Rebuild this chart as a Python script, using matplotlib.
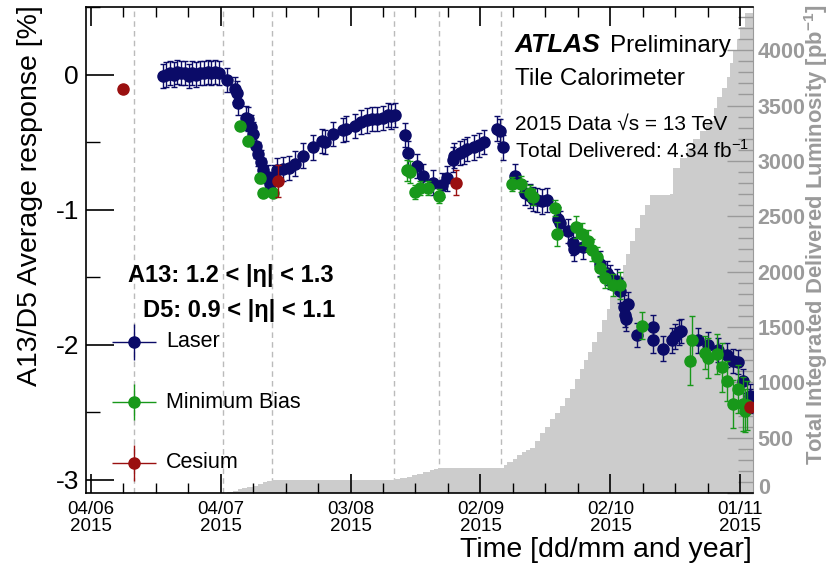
import numpy as np
import matplotlib
matplotlib.use("Agg")
import matplotlib.pyplot as plt
from matplotlib.ticker import FixedLocator, MultipleLocator

plt.rcParams['font.family'] = ['Liberation Sans', 'DejaVu Sans']
plt.rcParams['mathtext.fontset'] = 'custom'
plt.rcParams['mathtext.rm'] = 'Liberation Sans'
plt.rcParams['mathtext.bf'] = 'Liberation Sans:bold'

# x values are days since 04/06/2015
laser_day = [16.7, 17.4, 18.3, 19.2, 19.9, 20.9, 21.8, 22.7, 23.4, 24.3, 25.2, 26.2, 27.1, 27.8,
             28.7, 29.6, 31.5, 33.4, 33.7, 34.0, 35.8, 36.4, 37.0, 37.6, 38.3, 38.6, 39.3, 39.8,
             40.9, 41.5, 42.3, 43.0, 44.4, 45.8, 47.2, 49.1, 51.3, 53.4, 54.1, 56.0, 58.2, 59.0,
             61.0, 62.5, 63.7, 65.0, 66.1, 67.5, 68.6, 69.4, 70.2, 72.6, 73.3, 75.3, 76.7, 79.0,
             81.1, 82.3, 83.6, 84.0, 85.2, 86.3, 86.9, 88.6, 89.7, 90.9, 93.8, 94.4, 95.2, 98.0,
             100.2, 101.4, 102.2, 103.1, 104.2, 105.3, 107.8, 108.3, 110.2, 111.4, 111.6, 113.6,
             117.6, 119.2, 120.0, 121.5, 122.2, 123.2, 123.4, 123.5, 124.1, 126.1, 129.8, 129.9,
             132.1, 134.2, 134.9, 135.9, 136.3, 140.2, 142.5, 144.8, 146.9, 148.2, 149.4, 150.5,
             152.1, 152.3]
laser_val = [-0.01, 0.00, 0.01, 0.00, 0.02, 0.01, 0.01, -0.01, 0.01, 0.00, 0.01, 0.01, 0.02, 0.01,
             0.02, 0.01, -0.04, -0.11, -0.14, -0.21, -0.32, -0.33, -0.39, -0.44, -0.53, -0.59, -0.65, -0.71,
             -0.76, -0.81, -0.76, -0.71, -0.70, -0.69, -0.66, -0.60, -0.54, -0.49, -0.50, -0.44, -0.41, -0.40,
             -0.38, -0.35, -0.34, -0.33, -0.33, -0.32, -0.30, -0.31, -0.30, -0.45, -0.58, -0.68, -0.75, -0.80,
             -0.82, -0.77, -0.63, -0.60, -0.58, -0.57, -0.55, -0.54, -0.52, -0.50, -0.40, -0.42, -0.54, -0.75,
             -0.88, -0.90, -0.92, -0.93, -0.94, -0.93, -1.07, -1.10, -1.16, -1.25, -1.29, -1.28,
             -1.40, -1.47, -1.50, -1.53, -1.60, -1.72, -1.78, -1.81, -1.70, -1.93, -1.87, -1.97,
             -2.03, -1.97, -1.94, -1.91, -1.90, -1.97, -2.00, -2.04, -2.08, -2.12, -2.13, -2.27,
             -2.38, -2.42]
laser_err = [0.09] * len(laser_val)

minbias_day = [34.5, 36.3, 39.1, 39.8, 42.1, 73.0, 73.7, 74.9, 76.0, 77.9, 80.4, 97.2, 99.3, 101.4,
               102.1, 107.2, 107.6, 112.0, 113.4, 114.8, 115.7, 116.9, 117.6, 118.7, 120.6, 122.2,
               127.2, 138.3, 138.8, 141.8, 142.5, 144.6, 145.7, 146.9, 148.2, 149.4, 150.5, 151.0, 151.5]
minbias_val = [-0.38, -0.49, -0.77, -0.88, -0.88, -0.71, -0.72, -0.87, -0.84, -0.84, -0.90, -0.81,
               -0.81, -0.88, -0.91, -0.99, -1.18, -1.13, -1.18, -1.23, -1.30, -1.35, -1.43, -1.51,
               -1.56, -1.56, -1.86, -2.12, -1.97, -2.06, -2.10, -2.07, -2.17, -2.27, -2.44, -2.33,
               -2.44, -2.49, -2.45]
minbias_err = [0.03, 0.03, 0.03, 0.03, 0.03, 0.08, 0.08, 0.05, 0.05, 0.05, 0.05, 0.05, 0.06, 0.06,
               0.06, 0.06, 0.09, 0.08, 0.08, 0.08, 0.08, 0.07, 0.07, 0.07, 0.08, 0.10, 0.10, 0.18,
               0.18, 0.12, 0.15, 0.15, 0.18, 0.15, 0.18, 0.18, 0.20, 0.16, 0.18]

cesium_day = [7.5, 43.3, 84.3, 152.2]
cesium_val = [-0.11, -0.79, -0.80, -2.46]
cesium_err = [0.02, 0.12, 0.09, 0.02]

# cumulative delivered luminosity [pb^-1]
lumi_day = [-2.0, 30.6, 31.5, 32.9, 34.0, 35.0, 36.2, 37.5, 38.6, 39.8, 40.8, 41.9, 55.0, 70.0,
            71.5, 73.0, 74.2, 75.3, 76.8, 78.3, 79.2, 80.2, 94.5, 95.5, 96.1, 97.5, 98.5, 99.5,
            100.5, 101.4, 102.5, 103.7, 104.8, 106.0, 107.2, 108.3, 109.5, 110.6, 111.8, 112.9,
            113.8, 114.8, 115.8, 116.9, 118.0, 119.2, 120.0, 120.6, 121.8, 122.9, 123.7, 124.5,
            125.6, 126.8, 128.0, 129.1, 133.7, 134.4, 136.0, 137.6, 139.0, 140.6, 142.0, 142.9,
            144.0, 144.6, 145.8, 146.9, 147.6, 148.3, 149.1, 149.9, 151.0, 154.0]
lumi_val = [0, 0, 8, 20, 35, 45, 55, 64, 85, 100, 108, 115, 120, 127,
            135, 145, 160, 173, 190, 209, 220, 227, 230, 250, 282, 309, 340, 373,
            390, 409, 470, 545, 600, 664, 720, 782, 860, 936, 1030, 1118,
            1200, 1273, 1360, 1455, 1560, 1664, 1770, 1873, 1960, 2055, 2160, 2273,
            2390, 2509, 2600, 2691, 2700, 2936, 3030, 3118, 3200, 3273, 3320, 3364,
            3480, 3573, 3660, 3755, 3880, 4000, 4100, 4209, 4340, 4340]

stop_days = [10.0, 30.6, 41.9, 70.0, 80.4, 94.7]

tick_days = [0, 30, 60, 90, 120, 150]
tick_labels = ['04/06\n2015', '04/07\n2015', '03/08\n2015', '02/09\n2015', '02/10\n2015', '01/11\n2015']

navy = '#0b0b68'
green = '#18981a'
red = '#9a1010'
grey = '#9a9a9a'

fig = plt.figure(figsize=(8.33, 5.66), dpi=100)
ax = fig.add_axes([86 / 833, 73 / 566, 667 / 833, 486 / 566])
ax2 = ax.twinx()
ax.set_zorder(ax2.get_zorder() + 1)
ax.patch.set_visible(False)

# luminosity + dashed markers (behind the data)
for d in stop_days:
    ax2.axvline(d, color='#bbbbbb', ls=(0, (4, 3)), lw=1, zorder=0)
ax2.fill_between(lumi_day, lumi_val, 0, step='post', color='#cccccc', lw=0, zorder=1)
ax2.set_ylim(0, 4390)
ax2.yaxis.set_major_locator(MultipleLocator(500))
ax2.yaxis.set_minor_locator(MultipleLocator(100))
ax2.yaxis.set_major_formatter(plt.FuncFormatter(lambda v, p: '' if v == 0 else '%d' % v))
ax2.tick_params(axis='y', which='both', direction='in', colors=grey, labelsize=15.5, pad=3)
ax2.tick_params(axis='y', which='major', length=19, width=1)
ax2.tick_params(axis='y', which='minor', length=11, width=1)
for lab in ax2.get_yticklabels():
    lab.set_fontweight('bold')
ax2.spines['right'].set_color(grey)
for s in ['top', 'left', 'bottom']:
    ax2.spines[s].set_visible(False)
# the "0" of the luminosity scale, nudged up a little
ax2.text(1 + 5 / 667, 5 / 486, '0', transform=ax2.transAxes, fontsize=15.5, fontweight='bold',
         color=grey, ha='left', va='center')

# data
ax.errorbar(laser_day, laser_val, yerr=laser_err, fmt='o', color=navy, ms=8, capsize=2.5,
            elinewidth=1, capthick=1, zorder=3)
ax.errorbar(minbias_day, minbias_val, yerr=minbias_err, fmt='o', color=green, ms=8, capsize=2.5,
            elinewidth=1, capthick=1, zorder=4)
ax.errorbar(cesium_day, cesium_val, yerr=cesium_err, fmt='o', color=red, ms=8, capsize=2.5,
            elinewidth=1, capthick=1, zorder=5)

ax.set_xlim(-1.05, 152.9)
ax.set_ylim(-3.1, 0.5)
ax.xaxis.set_major_locator(FixedLocator(tick_days))
ax.set_xticklabels(tick_labels, fontsize=13.5, linespacing=0.95)
ax.xaxis.set_minor_locator(MultipleLocator(7.5))
ax.yaxis.set_major_locator(MultipleLocator(1))
ax.yaxis.set_minor_locator(MultipleLocator(0.5))
ax.tick_params(axis='x', which='both', direction='in', top=True, bottom=True, pad=6)
ax.tick_params(axis='x', which='major', length=14, width=1.2)
ax.tick_params(axis='x', which='minor', length=7.5, width=1)
ax.tick_params(axis='y', which='both', direction='in', left=True, right=False, labelsize=19, pad=5)
ax.tick_params(axis='y', which='major', length=20, width=1.2)
ax.tick_params(axis='y', which='minor', length=10, width=1)
ax.yaxis.set_major_formatter(plt.FuncFormatter(lambda v, p: '%d' % v))
ax.spines['right'].set_visible(False)
for s in ['top', 'left', 'bottom']:
    ax.spines[s].set_linewidth(1.2)

# axis titles
fig.text(30 / 833, 1 - 5 / 566, 'A13/D5 Average response [%]', rotation=90, ha='center', va='top',
         fontsize=20.5)
fig.text(752 / 833, 1 - 550 / 566, 'Time [dd/mm and year]', ha='right', va='center', fontsize=20.5)
fig.text(816 / 833, 1 - 5 / 566, r'Total Integrated Delivered Luminosity [pb$^{\mathbf{-1}}$]',
         rotation=90, ha='center', va='top', fontsize=15.8, fontweight='bold', color=grey)

# labels
ax.text(0.643, 0.907, 'ATLAS', transform=ax.transAxes, fontsize=19, fontweight='bold',
        fontstyle='italic', va='baseline')
ax.text(0.785, 0.907, 'Preliminary', transform=ax.transAxes, fontsize=17.5, va='baseline')
ax.text(0.643, 0.840, 'Tile Calorimeter', transform=ax.transAxes, fontsize=17.5, va='baseline')
ax.text(0.643, 0.747, '2015 Data √s = 13 TeV', transform=ax.transAxes, fontsize=15, va='baseline')
ax.text(0.643, 0.690, r'Total Delivered: 4.34 fb$^{-1}$', transform=ax.transAxes, fontsize=15,
        va='baseline')
ax.text(0.063, 0.434, 'A13: 1.2 < |η| < 1.3', transform=ax.transAxes, fontsize=17, fontweight='bold',
        va='baseline')
ax.text(0.085, 0.362, 'D5: 0.9 < |η| < 1.1', transform=ax.transAxes, fontsize=17, fontweight='bold',
        va='baseline')

# legend
leg_names = ['Laser', 'Minimum Bias', 'Cesium']
leg_colors = [navy, green, red]
leg_y = [0.311, 0.187, 0.062]
for name, c, y in zip(leg_names, leg_colors, leg_y):
    ax.errorbar([0.072], [y], xerr=[0.033], yerr=[0.037], fmt='o', color=c, ms=8, elinewidth=1,
                transform=ax.transAxes, clip_on=False, zorder=6)
    ax.text(0.12, y, name, transform=ax.transAxes, fontsize=15.5, va='center')

fig.savefig('out.png', dpi=100)
